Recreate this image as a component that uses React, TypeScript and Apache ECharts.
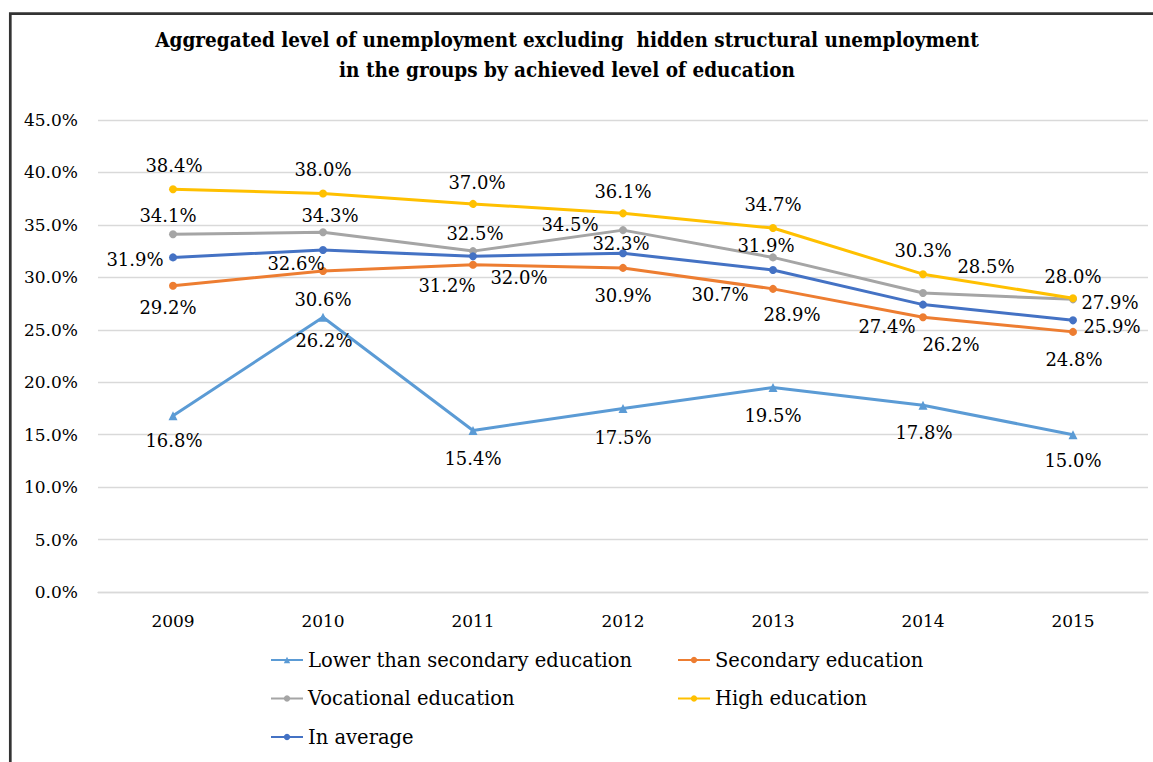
import React, { useEffect, useRef } from "react";
import * as echarts from "echarts";

const years = ["2009", "2010", "2011", "2012", "2013", "2014", "2015"];
const lowerThanSecondary = [16.8, 26.2, 15.4, 17.5, 19.5, 17.8, 15.0];
const secondaryEdu = [29.2, 30.6, 31.2, 30.9, 28.9, 26.2, 24.8];
const vocationalEdu = [34.1, 34.3, 32.5, 34.5, 31.9, 28.5, 27.9];
const highEdu = [38.4, 38.0, 37.0, 36.1, 34.7, 30.3, 28.0];
const inAverage = [31.9, 32.6, 32.0, 32.3, 30.7, 27.4, 25.9];
const yTicks = { min: 0, max: 45, interval: 5 };

// label placement (style only): offset of label centre from the point
const offLower = [[1, 25], [1, 23], [0, 28], [0, 29], [0, 28], [1, 27], [0, 26]];
const offSecondary = [[-5, 22], [0, 28], [-26, 21], [0, 28], [19, 26], [28, 27], [1, 28]];
const offVocational = [[-5, -19], [7, -17], [2, -18], [-53, -6], [-7, -12], [63, -27], [37, 3]];
const offHigh = [[1, -24], [0, -24], [4, -21], [0, -22], [0, -24], [0, -24], [0, -22]];
const offAverage = [[-38, 2], [-27, 13], [46, 21], [-2, -10], [-53, 25], [-36, 22], [39, 6]];

const SERIF = "DejaVu Serif";
const SERIF_COND = "DejaVu Serif Condensed, DejaVu Serif";

function makeSeries(name: string, values: number[], offs: number[][], color: string, symbol: string, symbolSize: number) {
  return {
    name,
    type: "line",
    data: values.map((v, i) => ({ value: v, label: { offset: offs[i] } })),
    symbol,
    symbolSize,
    lineStyle: { color, width: 3 },
    itemStyle: { color },
    label: {
      show: true,
      position: "inside",
      formatter: (p: any) => Number(p.value).toFixed(1) + "%",
      fontFamily: SERIF,
      fontSize: 18,
      color: "#000",
    },
    emphasis: { disabled: true },
  };
}

export default function App() {
  const ref = useRef<HTMLDivElement>(null);
  useEffect(() => {
    if (!ref.current) return;
    const chart = echarts.init(ref.current, undefined, { renderer: "svg" });
    const legendText = { fontFamily: SERIF, fontSize: 19.5, color: "#000", lineHeight: 24 };
    chart.setOption({
      animation: false,
      backgroundColor: "#fff",
      title: {
        text: "Aggregated level of unemployment excluding  hidden structural unemployment\nin the groups by achieved level of education",
        left: 567,
        top: 25,
        textAlign: "center",
        padding: 0,
        textStyle: { fontFamily: SERIF_COND, fontSize: 20.5, fontWeight: "bold", color: "#000", lineHeight: 30 },
      },
      grid: { left: 98, right: 5, top: 120, bottom: 170, containLabel: false },
      xAxis: {
        type: "category",
        data: years,
        boundaryGap: true,
        axisLine: { show: true, lineStyle: { color: "#d9d9d9", width: 1.3 } },
        axisTick: { show: false },
        axisLabel: { margin: 20, fontFamily: SERIF, fontSize: 17, color: "#000" },
      },
      yAxis: {
        type: "value",
        min: yTicks.min,
        max: yTicks.max,
        interval: yTicks.interval,
        axisLine: { show: false },
        axisTick: { show: false },
        splitLine: { lineStyle: { color: "#d9d9d9", width: 1.3 } },
        axisLabel: {
          margin: 20,
          fontFamily: SERIF,
          fontSize: 17,
          color: "#000",
          formatter: (v: number) => v.toFixed(1) + "%",
        },
      },
      legend: [
        {
          data: ["Lower than secondary education", "Vocational education", "In average"],
          orient: "vertical",
          left: 270,
          top: 648,
          padding: 0,
          itemWidth: 32,
          itemHeight: 8,
          itemGap: 14.5,
          textStyle: legendText,
          selectedMode: false,
        },
        {
          data: ["Secondary education", "High education"],
          orient: "vertical",
          left: 677,
          top: 648,
          padding: 0,
          itemWidth: 32,
          itemHeight: 8,
          itemGap: 14.5,
          textStyle: legendText,
          selectedMode: false,
        },
      ],
      graphic: [
        {
          type: "rect",
          shape: { x: 10.3, y: 13.7, width: 1400, height: 1000 },
          style: { fill: "none", stroke: "#333", lineWidth: 2.7 },
          silent: true,
        },
      ],
      series: [
        makeSeries("Lower than secondary education", lowerThanSecondary, offLower, "#5B9BD5", "triangle", 9),
        makeSeries("Secondary education", secondaryEdu, offSecondary, "#ED7D31", "circle", 8),
        makeSeries("Vocational education", vocationalEdu, offVocational, "#A5A5A5", "circle", 8),
        makeSeries("High education", highEdu, offHigh, "#FFC000", "circle", 8),
        makeSeries("In average", inAverage, offAverage, "#4472C4", "circle", 8),
      ],
    });
    return () => chart.dispose();
  }, []);
  return (
    <div
      ref={ref}
      style={{ position: "fixed", left: 0, top: 0, width: 1153, height: 762, background: "#fff" }}
    />
  );
}
